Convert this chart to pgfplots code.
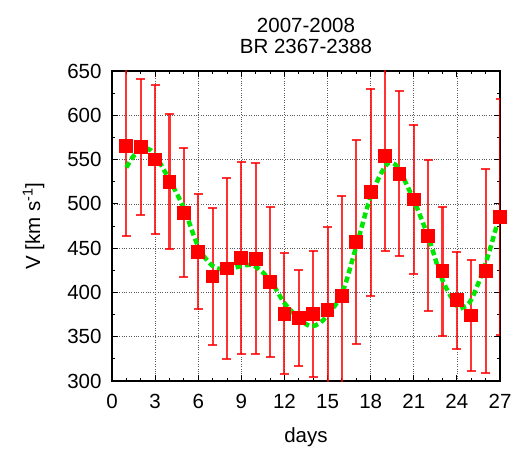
\documentclass[border=0pt]{standalone}
\usepackage{pgfplots}
\pgfplotsset{compat=1.18}
\usepackage{fontspec}
\setmainfont{Liberation Sans}
\definecolor{fitgreen}{RGB}{0,230,0}
\newcommand{\bigf}{\fontsize{20.5}{21}\selectfont}

\begin{document}
\begin{tikzpicture}
\begin{axis}[
  name=ax,
  scale only axis,
  width=388pt, height=310pt,
  xmin=0, xmax=27, ymin=300, ymax=650,
  xtick={0,3,...,27}, ytick={300,350,...,650},
  minor x tick num=2, minor y tick num=1,
  tick align=inside, tick pos=both,
  major tick length=6pt, minor tick length=3pt,
  grid=major,
  major grid style={black!65, dotted, line width=0.6pt},
  axis line style={line width=1.3pt},
  every tick/.style={black, line width=0.9pt},
  tick label style={font=\bigf},
  label style={font=\bigf},
  /pgf/number format/assume math mode=true,
  xticklabel style={yshift=-10pt},
  yticklabel style={xshift=-7pt},
  xlabel={days}, ylabel={V [km s\textsuperscript{-1}]},
  xlabel style={yshift=-12pt},
  ylabel style={yshift=16pt},
  title={2007-2008\\BR 2367-2388},
  title style={align=center, yshift=8pt, font=\bigf},
  clip=true,
]
% measured velocities with error bars
\addplot[red, line width=1.4pt, opacity=0.85, mark=square*, mark size=6.2pt,
  mark options={solid, opacity=1},
  only marks,
  error bars/.cd, y dir=both, y explicit,
  error bar style={line width=2.1pt, red, opacity=0.8},
  error mark options={rotate=90, mark size=4.5pt, line width=2pt, red}]
coordinates {
  (1,565) +- (0,101)
  (2,564) +- (0,77)
  (3,550) +- (0,84)
  (4,525) +- (0,76)
  (5,490) +- (0,73)
  (6,446) +- (0,65)
  (7,418) +- (0,77)
  (8,427) +- (0,102)
  (9,439) +- (0,108)
  (10,438) +- (0,108)
  (11,412) +- (0,85)
  (12,376) +- (0,68)
  (13,371) +- (0,54)
  (14,376) +- (0,71)
  (15,380) +- (0,94)
  (16,396) +- (0,113)
  (17,457) +- (0,115)
  (18,513) +- (0,117)
  (19,554) +- (0,107)
  (20,534) +- (0,93)
  (21,505) +- (0,84)
  (22,464) +- (0,85)
  (23,424) +- (0,73)
  (24,391) +- (0,55)
  (25,374) +- (0,63)
  (26,424) +- (0,115)
  (27,485) +- (0,133)
};
% fitted curve
\addplot[fitgreen, line width=4.5pt, dash pattern=on 6pt off 3.5pt, smooth, tension=0.6]
coordinates {
  (1,541) (1.5,554) (2,561) (2.5,562) (3,555) (4,527) (5,495) (6,452)
  (7,430) (8,426) (9,430) (9.5,431) (10,429) (11,414) (12,388) (13,371)
  (13.8,362) (14.5,366) (15,375) (16,399) (17,452) (18,508) (19,542)
  (19.5,546) (20,538) (21,504) (22,463) (23,414) (24,385) (24.4,383)
  (25,392) (26,433) (27,489)
};
\end{axis}
\pgfresetboundingbox
\path ([shift={(-112pt,-68pt)}]ax.south west) rectangle ([shift={(15pt,71pt)}]ax.north east);
\end{tikzpicture}
\end{document}
